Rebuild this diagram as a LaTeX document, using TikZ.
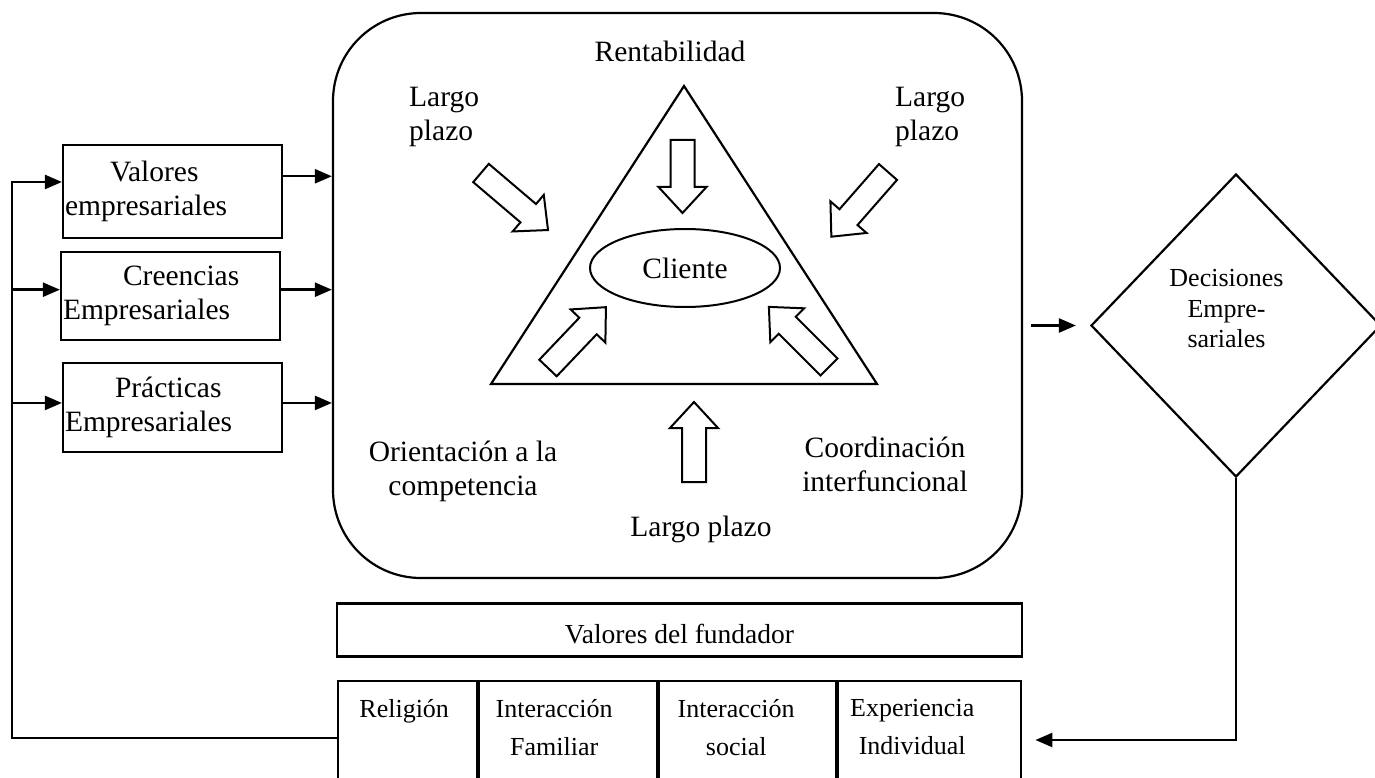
\documentclass[tikz,border=0pt]{standalone}
\usepackage{fontspec}
\setmainfont{Liberation Serif}
\usetikzlibrary{arrows.meta,shapes.geometric,calc}

\tikzset{
  lbl/.style={inner sep=0pt, font=\fontsize{29.5}{34}\selectfont},
  sml/.style={inner sep=0pt, align=center, font=\fontsize{26}{38}\selectfont},
  box/.style={draw, line width=2.2pt, inner sep=0pt},
  fbox/.style={draw, line width=2.4pt, inner sep=0pt, minimum height=140pt, anchor=north west},
  divider/.style={line width=3.6pt},
  conn/.style={line width=2.4pt, -{Triangle[length=17pt,width=14pt]}},
  pics/barrow/.style={code={
    \draw[line width=2pt, fill=white, line join=miter]
      (0,-12) -- (#1-26,-12) -- (#1-26,-24) -- (#1,0) -- (#1-26,24) -- (#1-26,12) -- (0,12) -- cycle;}}
}

\begin{document}
\begin{tikzpicture}[x=1pt,y=-1pt]
\useasboundingbox (0,0) rectangle (1375,778);
\clip (0,0) rectangle (1375,778);

% market orientation frame
\node[box, rounded corners=88pt, minimum width=689pt, minimum height=565pt] (main) at (677.5,295.5) {};
\draw[line width=2.2pt, line join=miter] (684,86) -- (877,384) -- (491,384) -- cycle;
\node[draw, ellipse, line width=2pt, lbl, minimum width=190pt, minimum height=78pt] (cli) at (685,268) {Cliente};

\node[lbl, anchor=base] (ren) at (670,62) {Rentabilidad};
\node[lbl, align=left, anchor=west] (lpl) at (409,117) {Largo\\plazo};
\node[lbl, align=left, anchor=west] (lpr) at (895,117) {Largo\\plazo};
\node[lbl, align=center] (ori) at (463,471) {Orientación a la\\competencia};
\node[lbl, align=center] (coo) at (885,464) {Coordinación\\interfuncional};
\node[lbl, anchor=base] (lpb) at (701,536) {Largo plazo};

% block arrows towards the customer
\pic[rotate=-90] at (682.5,140) {barrow=73};
\pic[rotate=90] at (694,482) {barrow=80};
\pic[rotate=-40.4] at (481,173) {barrow=88};
\pic[rotate=-131.2] at (888,172) {barrow=86};
\pic[rotate=46.4] at (548,368) {barrow=84};
\pic[rotate=135] at (829,367) {barrow=85};

% company values, beliefs and practices
\node[box, lbl, minimum width=219pt, minimum height=93pt, text width=215pt, align=left] (b1) at (172.5,191.5) {\hspace*{45pt}Valores\\empresariales};
\node[box, lbl, minimum width=219pt, minimum height=88pt, text width=215pt, align=left] (b2) at (170.5,296) {\hspace*{60pt}Creencias\\Empresariales};
\node[box, lbl, minimum width=219pt, minimum height=89pt, text width=215pt, align=left] (b3) at (172.5,407.5) {\hspace*{50pt}Prácticas\\Empresariales};

\coordinate (o1) at ($(b1.north east)!0.34!(b1.south east)$);
\coordinate (o2) at ($(b2.north east)!0.43!(b2.south east)$);
\coordinate (o3) at ($(b3.north east)!0.45!(b3.south east)$);
\draw[conn] (o1) -- (o1 -| main.west);
\draw[conn] (o2) -- (o2 -| main.west);
\draw[conn] (o3) -- (o3 -| main.west);

% founder values
\node[box, line width=2.4pt, font=\fontsize{27.5}{34}\selectfont, minimum width=685pt, minimum height=53pt, text height=30pt, text depth=4pt] (vf) at (679.5,630) {Valores del fundador};

\node[fbox, minimum width=141pt] (rel) at (337,680) {};
\node[fbox, minimum width=180pt] (fam) at (478,680) {};
\node[fbox, minimum width=179pt] (soc) at (658,680) {};
\node[fbox, minimum width=183pt] (exp) at (837,680) {};
\draw[divider] (fam.north west) -- (fam.south west);
\draw[divider] (soc.north west) -- (soc.south west);
\draw[divider] (exp.north west) -- (exp.south west);

\node[sml, anchor=north] (trel) at ($(rel.north)+(-4.5,19)$) {Religión};
\node[sml, anchor=north] (tfam) at ($(fam.north)+(-15,19)$) {Interacción\\Familiar};
\node[sml, anchor=north] (tsoc) at ($(soc.north)+(-12.5,19)$) {Interacción\\social};
\node[sml, anchor=north] (texp) at ($(exp.north)+(-17.5,19)$) {Experiencia\\Individual};

% decisions
\node[draw, diamond, line width=2.2pt, minimum width=290pt, minimum height=303pt, inner sep=0pt] (dia) at (1236,325.5) {};
\node[sml, font=\fontsize{26}{30.5}\selectfont] (dtx) at (1226.5,309) {Decisiones\\Empre-\\sariales};

\coordinate (dout) at ($(main.east |- dia.west)+(8,0)$);
\coordinate (din) at ($(dia.west)+(-14,0)$);
\draw[conn] (dout) -- (din);

% feedback loop
\coordinate (fbr) at ($(exp.north east)+(13,60)$);
\draw[conn] (dia.south) |- (fbr);

\coordinate (fbl) at ($(rel.north west)+(0,58)$);
\coordinate (sp) at (12,0);
\coordinate (i1) at ($(b1.north west)!0.40!(b1.south west)$);
\coordinate (i2) at ($(b2.north west)!0.43!(b2.south west)$);
\coordinate (i3) at ($(b3.north west)!0.45!(b3.south west)$);
\draw[conn] (fbl) -- (sp |- fbl) -- (sp |- i1) -- (i1);
\draw[conn] (sp |- i2) -- (i2);
\draw[conn] (sp |- i3) -- (i3);
\end{tikzpicture}
\end{document}
